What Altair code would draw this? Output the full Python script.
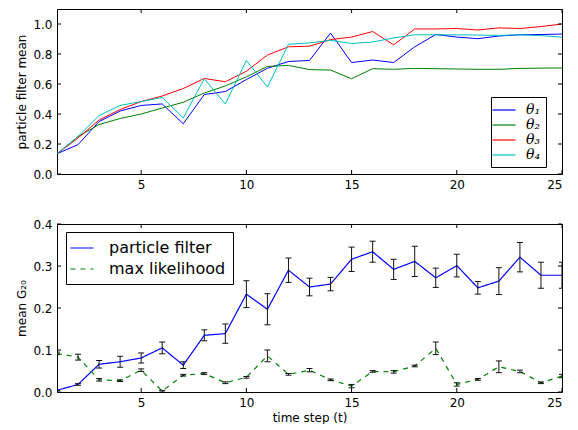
import altair as alt
import pandas as pd

steps = list(range(1, 26))

theta1 = [0.135, 0.196, 0.35, 0.42, 0.457, 0.467, 0.335, 0.53, 0.55, 0.63, 0.705, 0.75, 0.757,
          0.94, 0.743, 0.76, 0.743, 0.848, 0.93, 0.913, 0.902, 0.92, 0.928, 0.93, 0.933]
theta2 = [0.135, 0.25, 0.33, 0.37, 0.40, 0.44, 0.478, 0.54, 0.587, 0.648, 0.717, 0.724, 0.696,
          0.693, 0.635, 0.702, 0.698, 0.704, 0.702, 0.70, 0.698, 0.698, 0.704, 0.706, 0.707]
theta3 = [0.135, 0.24, 0.36, 0.43, 0.483, 0.52, 0.57, 0.637, 0.615, 0.685, 0.793, 0.848, 0.852,
          0.896, 0.913, 0.95, 0.861, 0.967, 0.967, 0.97, 0.96, 0.974, 0.97, 0.983, 1.0]
theta4 = [0.135, 0.25, 0.39, 0.457, 0.483, 0.51, 0.374, 0.635, 0.467, 0.757, 0.58, 0.865, 0.874,
          0.891, 0.87, 0.88, 0.907, 0.928, 0.928, 0.928, 0.926, 0.924, 0.928, 0.922, 0.913]
theta_names = ["θ₁", "θ₂", "θ₃", "θ₄"]
theta_colors = ["#0000ff", "#008000", "#ff0000", "#00bfbf"]

pf_mean = [0.004, 0.018, 0.066, 0.072, 0.081, 0.105, 0.064, 0.135, 0.139, 0.233, 0.197, 0.29, 0.25,
           0.257, 0.316, 0.334, 0.292, 0.311, 0.272, 0.301, 0.248, 0.264, 0.321, 0.278, 0.278]
pf_err = [0.0, 0.002, 0.009, 0.013, 0.012, 0.014, 0.008, 0.013, 0.023, 0.032, 0.037, 0.029, 0.021,
          0.016, 0.029, 0.025, 0.024, 0.036, 0.023, 0.027, 0.015, 0.032, 0.035, 0.031, 0.031]
ml_mean = [0.092, 0.083, 0.029, 0.027, 0.052, 0.002, 0.040, 0.044, 0.022, 0.035, 0.086, 0.042, 0.052,
           0.029, 0.014, 0.049, 0.048, 0.062, 0.104, 0.018, 0.030, 0.060, 0.049, 0.022, 0.038]
ml_err = [0.003, 0.007, 0.003, 0.002, 0.003, 0.002, 0.002, 0.002, 0.002, 0.002, 0.014, 0.002, 0.004,
          0.002, 0.004, 0.002, 0.003, 0.002, 0.015, 0.004, 0.002, 0.014, 0.003, 0.002, 0.004]
method_names = ["particle filter", "max likelihood"]
method_colors = ["#0000ff", "#008000"]

x_ticks = [5, 10, 15, 20, 25]
top_y_ticks = [0.0, 0.2, 0.4, 0.6, 0.8, 1.0]
bot_y_ticks = [0.0, 0.1, 0.2, 0.3, 0.4]

W = 505
H_TOP = 165
H_BOT = 168

top_df = pd.DataFrame({
    "t": steps * 4,
    "value": theta1 + theta2 + theta3 + theta4,
    "series": sum([[n] * len(steps) for n in theta_names], []),
})
bot_df = pd.DataFrame({
    "t": steps * 2,
    "value": pf_mean + ml_mean,
    "lo": [m - e for m, e in zip(pf_mean, pf_err)] + [m - e for m, e in zip(ml_mean, ml_err)],
    "hi": [m + e for m, e in zip(pf_mean, pf_err)] + [m + e for m, e in zip(ml_mean, ml_err)],
    "method": [method_names[0]] * len(steps) + [method_names[1]] * len(steps),
})
xt_df = pd.DataFrame({"t": x_ticks})

x_scale = alt.Scale(domain=[1, 25], nice=False, zero=False)
top_y_scale = alt.Scale(domain=[0, 1.1], nice=False)
bot_y_scale = alt.Scale(domain=[0, 0.4], nice=False)

top_x_axis = alt.Axis(values=x_ticks, title=None, labelOverlap=False)
top_y_axis = alt.Axis(values=top_y_ticks, format=".1f", title="particle filter mean",
                      labelOverlap=False)
bot_x_axis = alt.Axis(values=x_ticks, title="time step (t)", labelOverlap=False)
bot_y_axis = alt.Axis(values=bot_y_ticks, format=".1f", title="mean G₂₀", labelOverlap=False)


def inner_ticks(y_ticks, y_scale, H, x_axis, y_axis):
    yt_df = pd.DataFrame({"value": y_ticks})
    xs = alt.X("t:Q", scale=x_scale, axis=x_axis)
    ys = alt.Y("value:Q", scale=y_scale, axis=y_axis)
    return [
        alt.Chart(xt_df).mark_rule(color="black").encode(x=xs, y=alt.value(H), y2=alt.value(H - 4)),
        alt.Chart(xt_df).mark_rule(color="black").encode(x=xs, y=alt.value(0), y2=alt.value(4)),
        alt.Chart(yt_df).mark_rule(color="black").encode(y=ys, x=alt.value(0), x2=alt.value(4)),
        alt.Chart(yt_df).mark_rule(color="black").encode(y=ys, x=alt.value(W), x2=alt.value(W - 4)),
    ]


top_lines = alt.Chart(top_df).mark_line(strokeWidth=1, clip=True).encode(
    x=alt.X("t:Q", scale=x_scale, axis=top_x_axis),
    y=alt.Y("value:Q", scale=top_y_scale, axis=top_y_axis),
    color=alt.Color("series:N", scale=alt.Scale(domain=theta_names, range=theta_colors),
                    legend=alt.Legend(title=None, orient="none", legendX=434, legendY=88,
                                      strokeColor="black", fillColor="white", padding=5,
                                      cornerRadius=0, symbolType="M-1.65,0L1.65,0",
                                      symbolSize=196, symbolStrokeWidth=1.2,
                                      labelFont="DejaVu Serif", labelFontStyle="italic",
                                      labelFontSize=14, labelOffset=14, rowPadding=0,
                                      labelColor="black")),
)
top = alt.layer(top_lines, *inner_ticks(top_y_ticks, top_y_scale, H_TOP,
                                        top_x_axis, top_y_axis)).properties(
    width=W, height=H_TOP)

bot_legend = alt.Legend(title=None, orient="none", legendX=9, legendY=8,
                        strokeColor="black", fillColor="white", padding=7, cornerRadius=0,
                        symbolType="M-1.45,0L1.45,0", symbolSize=256, symbolStrokeWidth=1.2,
                        labelFont="DejaVu Sans", labelFontSize=16, labelOffset=18,
                        rowPadding=4, labelColor="black")
bot_lines = alt.Chart(bot_df).mark_line(strokeWidth=1.2, clip=True).encode(
    x=alt.X("t:Q", scale=x_scale, axis=bot_x_axis),
    y=alt.Y("value:Q", scale=bot_y_scale, axis=bot_y_axis),
    color=alt.Color("method:N", scale=alt.Scale(domain=method_names, range=method_colors),
                    legend=bot_legend),
    strokeDash=alt.StrokeDash("method:N",
                              scale=alt.Scale(domain=method_names, range=[[1, 0], [5, 5]]),
                              legend=bot_legend),
)
err_rule = alt.Chart(bot_df).mark_rule(color="#111111", strokeWidth=1, clip=True).encode(
    x=alt.X("t:Q", scale=x_scale, axis=bot_x_axis),
    y=alt.Y("lo:Q", scale=bot_y_scale, axis=bot_y_axis), y2="hi:Q")
cap_lo = alt.Chart(bot_df).mark_tick(color="#111111", orient="horizontal", size=6,
                                     thickness=1, clip=True, opacity=1).encode(
    x=alt.X("t:Q", scale=x_scale, axis=bot_x_axis),
    y=alt.Y("lo:Q", scale=bot_y_scale, axis=bot_y_axis))
cap_hi = alt.Chart(bot_df).mark_tick(color="#111111", orient="horizontal", size=6,
                                     thickness=1, clip=True, opacity=1).encode(
    x=alt.X("t:Q", scale=x_scale, axis=bot_x_axis),
    y=alt.Y("hi:Q", scale=bot_y_scale, axis=bot_y_axis))

bot = alt.layer(bot_lines, err_rule, cap_lo, cap_hi,
                *inner_ticks(bot_y_ticks, bot_y_scale, H_BOT,
                             bot_x_axis, bot_y_axis)).properties(width=W, height=H_BOT)

chart = alt.vconcat(top, bot, spacing=26).resolve_scale(
    color="independent", strokeDash="independent"
).properties(
    padding={"left": 7, "top": 0, "right": 5, "bottom": 0}
).configure_view(
    stroke="black", strokeWidth=1
).configure_axis(
    labelFont="DejaVu Sans", labelFontSize=12, titleFont="DejaVu Sans", titleFontSize=12,
    titleFontWeight="normal", labelColor="black", titleColor="black", grid=False,
    ticks=False, domain=False, labelPadding=5
)

chart.save("out.html", embed_options={"renderer": "svg", "actions": False})
